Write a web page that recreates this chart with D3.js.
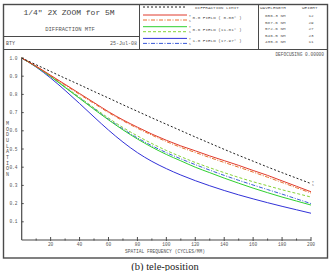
<!DOCTYPE html>
<html>
<head>
<meta charset="utf-8">
<script src="https://cdn.jsdelivr.net/npm/d3@7"></script>
<style>
  body { margin: 0; background: #fff; }
  svg { display: block; }
  text { font-family: "Liberation Mono", "DejaVu Sans Mono", monospace; fill: #555; }
</style>
</head>
<body>
<div id="chart"></div>
<script>
// --------------------------------------
//  Data
// --------------------------------------

const freqs = [0, 10, 20, 30, 40, 50, 60, 70, 80, 90, 100, 110, 120, 130, 140, 150, 160, 170, 180, 190, 200];

const diffLimit = [1.0, 0.963, 0.926, 0.889, 0.853, 0.816, 0.780, 0.743, 0.707, 0.671, 0.636, 0.601, 0.566, 0.532, 0.498, 0.465, 0.433, 0.401, 0.370, 0.340, 0.310];
const field0T = [1.0, 0.955, 0.905, 0.855, 0.805, 0.755, 0.705, 0.660, 0.620, 0.582, 0.548, 0.517, 0.490, 0.462, 0.436, 0.410, 0.382, 0.355, 0.325, 0.295, 0.265];
const field0S = [1.0, 0.953, 0.902, 0.851, 0.800, 0.750, 0.700, 0.655, 0.614, 0.576, 0.541, 0.509, 0.481, 0.453, 0.426, 0.400, 0.373, 0.345, 0.316, 0.287, 0.258];
const field6T = [1.0, 0.952, 0.898, 0.838, 0.778, 0.718, 0.660, 0.605, 0.555, 0.510, 0.470, 0.435, 0.400, 0.370, 0.340, 0.312, 0.285, 0.260, 0.236, 0.214, 0.192];
const field6S = [1.0, 0.953, 0.900, 0.842, 0.784, 0.726, 0.670, 0.618, 0.572, 0.530, 0.492, 0.458, 0.426, 0.397, 0.370, 0.344, 0.320, 0.298, 0.276, 0.256, 0.236];
const field10T = [1.0, 0.950, 0.890, 0.822, 0.750, 0.676, 0.604, 0.538, 0.480, 0.432, 0.392, 0.357, 0.326, 0.298, 0.272, 0.248, 0.226, 0.205, 0.185, 0.166, 0.147];
const field10S = [1.0, 0.953, 0.899, 0.840, 0.781, 0.722, 0.664, 0.610, 0.561, 0.518, 0.480, 0.446, 0.414, 0.384, 0.355, 0.328, 0.302, 0.277, 0.252, 0.226, 0.200];

const xTicks = [20, 40, 60, 80, 100, 120, 140, 160, 180, 200];
const yTicks = [0.1, 0.2, 0.3, 0.4, 0.5, 0.6, 0.7, 0.8, 0.9, 1.0];

const wavelengths = ["656.3 NM", "587.6 NM", "572.6 NM", "546.5 NM", "435.8 NM"];
const weights = ["12", "29", "27", "23", "11"];

const series = [
  { key: "diff", values: diffLimit, color: "#222", dash: "2,2" },
  { key: "f0T", values: field0T, color: "#e03a2c", dash: null },
  { key: "f0S", values: field0S, color: "#e8702c", dash: "4,1.5,1,1.5" },
  { key: "f6T", values: field6T, color: "#2fd02f", dash: null },
  { key: "f6S", values: field6S, color: "#86d43a", dash: "3,2" },
  { key: "f10T", values: field10T, color: "#3232d8", dash: null },
  { key: "f10S", values: field10S, color: "#3a5ad8", dash: "4,1.5,1,1.5" }
];

const legendRows = [
  { label: "0.0 FIELD ( 0.00\u00b0 )", t: series[1], s: series[2] },
  { label: "0.6 FIELD (11.01\u00b0 )", t: series[3], s: series[4] },
  { label: "1.0 FIELD (17.97\u00b0 )", t: series[5], s: series[6] }
];

// --------------------------------------
//  Canvas
// --------------------------------------

const width = 330, height = 271;

const svg = d3.select("#chart")
  .append("svg")
    .attr("width", width)
    .attr("height", height);

const frame = "#4a4a4a";

// outer box and header cells
svg.append("rect")
  .attr("x", 3.5).attr("y", 4.5)
  .attr("width", 324).attr("height", 253.5)
  .attr("fill", "none").attr("stroke", frame).attr("stroke-width", 1.4);

svg.append("line").attr("x1", 3.5).attr("x2", 327.5).attr("y1", 49.5).attr("y2", 49.5)
  .attr("stroke", frame).attr("stroke-width", 1.2);
svg.append("line").attr("x1", 3.5).attr("x2", 139.5).attr("y1", 36.5).attr("y2", 36.5)
  .attr("stroke", frame).attr("stroke-width", 1);
svg.append("line").attr("x1", 139.5).attr("x2", 139.5).attr("y1", 4.5).attr("y2", 49.5)
  .attr("stroke", frame).attr("stroke-width", 1);
svg.append("line").attr("x1", 258.5).attr("x2", 258.5).attr("y1", 4.5).attr("y2", 49.5)
  .attr("stroke", frame).attr("stroke-width", 1);

// header texts
svg.append("text").attr("x", 69).attr("y", 15).attr("text-anchor", "middle")
  .style("font-size", "8px").style("fill", "#444").text("1/4\" 2X ZOOM for 5M");
svg.append("text").attr("x", 70).attr("y", 31).attr("text-anchor", "middle")
  .style("font-size", "5.5px").text("DIFFRACTION MTF");
svg.append("text").attr("x", 6).attr("y", 44.5)
  .style("font-size", "5px").text("BTY");
svg.append("text").attr("x", 137).attr("y", 44.5).attr("text-anchor", "end")
  .style("font-size", "5px").text("25-Jul-08");

// legend
const lx0 = 143, lx1 = 187;
svg.append("line").attr("x1", lx0).attr("x2", lx1).attr("y1", 7).attr("y2", 7)
  .attr("stroke", series[0].color).attr("stroke-width", 1).attr("stroke-dasharray", series[0].dash);
svg.append("text").attr("x", 195).attr("y", 8.6).style("font-size", "4.3px").text("DIFFRACTION LIMIT");

legendRows.forEach((r, i) => {
  const yT = 15 + i * 11.7, yS = yT + 5;
  svg.append("line").attr("x1", lx0).attr("x2", lx1).attr("y1", yT).attr("y2", yT)
    .attr("stroke", r.t.color).attr("stroke-width", 1);
  svg.append("line").attr("x1", lx0).attr("x2", lx1).attr("y1", yS).attr("y2", yS)
    .attr("stroke", r.s.color).attr("stroke-width", 1).attr("stroke-dasharray", r.s.dash);
  svg.append("text").attr("x", 189).attr("y", yT + 1.5).style("font-size", "3px").text("T");
  svg.append("text").attr("x", 189).attr("y", yS + 1.5).style("font-size", "3px").text("S");
  svg.append("text").attr("x", 192.5).attr("y", yT + 4).style("font-size", "4.3px").text(r.label);
});

// wavelength table
svg.append("text").attr("x", 260).attr("y", 8.6).style("font-size", "4.3px").text("WAVELENGTH");
svg.append("text").attr("x", 302).attr("y", 8.6).style("font-size", "4.3px").text("WEIGHT");
wavelengths.forEach((w, i) => {
  const y = 17.3 + i * 6.5;
  svg.append("text").attr("x", 265).attr("y", y).style("font-size", "4.3px").text(w);
  svg.append("text").attr("x", 311).attr("y", y).attr("text-anchor", "middle").style("font-size", "4.3px").text(weights[i]);
});

svg.append("text").attr("x", 324).attr("y", 55.5).attr("text-anchor", "end")
  .style("font-size", "4.5px").text("DEFOCUSING  0.00000");

// --------------------------------------
//  Scales
// --------------------------------------

const x = d3.scaleLinear().domain([0, 200]).range([21.7, 311]);
const y = d3.scaleLinear().domain([0, 1]).range([240, 58]);

// --------------------------------------
//  Axes
// --------------------------------------

const plot = svg.append("g");

plot.append("line")
  .attr("x1", x(0)).attr("x2", x(0)).attr("y1", y(0)).attr("y2", y(1))
  .attr("stroke", frame).attr("stroke-width", 1.2);
plot.append("line")
  .attr("x1", x(0)).attr("x2", x(200)).attr("y1", y(0)).attr("y2", y(0))
  .attr("stroke", frame).attr("stroke-width", 1.2);

// x ticks: major with labels, minor in between
plot.selectAll(".xmaj")
  .data(xTicks)
  .join("line")
  .attr("x1", d => x(d)).attr("x2", d => x(d))
  .attr("y1", y(0) - 3).attr("y2", y(0) + 1)
  .attr("stroke", frame).attr("stroke-width", 1);

plot.selectAll(".xmin")
  .data(xTicks.map(d => d - 10))
  .join("line")
  .attr("x1", d => x(d)).attr("x2", d => x(d))
  .attr("y1", y(0) - 1.5).attr("y2", y(0) + 0.5)
  .attr("stroke", frame).attr("stroke-width", 1);

plot.selectAll(".xlab")
  .data(xTicks)
  .join("text")
  .attr("x", d => x(d)).attr("y", 245.5)
  .attr("text-anchor", "middle")
  .style("font-size", "4.5px")
  .text(d => d);

plot.selectAll(".ytick")
  .data(yTicks)
  .join("line")
  .attr("x1", x(0)).attr("x2", x(0) + 2)
  .attr("y1", d => y(d)).attr("y2", d => y(d))
  .attr("stroke", frame).attr("stroke-width", 1);

plot.selectAll(".ylab")
  .data(yTicks)
  .join("text")
  .attr("x", 17.5).attr("y", d => y(d) + 1.6)
  .attr("text-anchor", "end")
  .style("font-size", "4.5px")
  .text(d => d.toFixed(1));

plot.append("text").attr("x", 165).attr("y", 252.5).attr("text-anchor", "middle")
  .style("font-size", "4.6px").text("SPATIAL FREQUENCY (CYCLES/MM)");

"MODULATION".split("").forEach((c, i) => {
  plot.append("text").attr("x", 7.5).attr("y", 125 + i * 5.67)
    .attr("text-anchor", "middle").style("font-size", "5px").text(c);
});

// --------------------------------------
//  Data drawing
// --------------------------------------

const line = d3.line()
  .x((d, i) => x(freqs[i]))
  .y(d => y(d))
  .curve(d3.curveMonotoneX);

plot.selectAll(".curve")
  .data(series.slice().reverse())
  .join("path")
  .attr("d", d => line(d.values))
  .attr("fill", "none")
  .attr("stroke", d => d.color)
  .attr("stroke-width", 1)
  .attr("stroke-dasharray", d => d.dash);

// end markers on the diffraction limit curve
plot.append("text").attr("x", x(200) + 1).attr("y", y(diffLimit[20]) - 0.5)
  .style("font-size", "3px").text("T");
plot.append("text").attr("x", x(200) + 1).attr("y", y(diffLimit[20]) + 2.5)
  .style("font-size", "3px").text("S");

// caption below the frame
svg.append("text").attr("x", 165).attr("y", 270).attr("text-anchor", "middle")
  .style("font-family", "'Liberation Serif', serif").style("font-size", "10.5px").style("fill", "#222")
  .text("(b) tele-position");
</script>
</body>
</html>
